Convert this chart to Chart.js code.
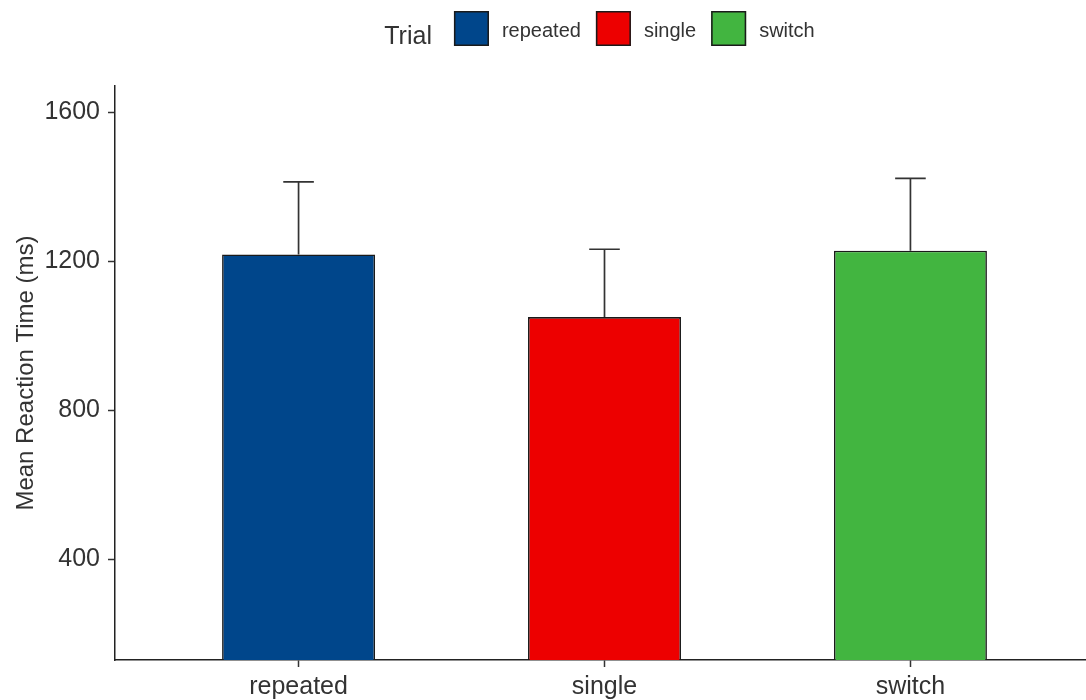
<!DOCTYPE html>
<html>
<head>
<meta charset="utf-8">
<script src="https://cdn.jsdelivr.net/npm/chart.js@4"></script>
<style>
  html, body { margin: 0; padding: 0; background: #fff; overflow: hidden; width: 1086px; height: 700px; }
  #wrap { width: 1100px; height: 700px; }
</style>
</head>
<body>
<div id="wrap"><canvas id="c" width="1100" height="700"></canvas></div>
<script>
// Mean reaction time per trial type, with the upper end of each error bar
const categories = ['repeated', 'single', 'switch'];
const meanRT = [1218, 1050, 1228];
const upperRT = [1413, 1232, 1422];
const barColors = ['#00468B', '#ED0000', '#42B540'];
const yTicks = [400, 800, 1200, 1600];
const legendTitle = 'Trial';
const yTitle = 'Mean Reaction Time (ms)';

const FONT = '"Liberation Sans", Arial, Helvetica, sans-serif';

// Upper error bars: stem from the bar top to the upper value, with a cap
const errorBarPlugin = {
  id: 'upperErrorBars',
  afterDatasetsDraw(chart) {
    const { ctx, scales: { x, y } } = chart;
    ctx.save();
    ctx.strokeStyle = '#333';
    ctx.lineWidth = 1.7;
    upperRT.forEach((u, i) => {
      const cx = x.getPixelForValue(i + 1);
      const half = x.getPixelForValue(i + 1 + 0.05) - cx;
      const yTop = y.getPixelForValue(u);
      const yBase = y.getPixelForValue(meanRT[i]);
      ctx.beginPath();
      ctx.moveTo(cx, yBase);
      ctx.lineTo(cx, yTop);
      ctx.moveTo(cx - half, yTop);
      ctx.lineTo(cx + half, yTop);
      ctx.stroke();
    });
    ctx.restore();
  }
};

// Horizontal legend at the top: title followed by colour keys
const trialLegendPlugin = {
  id: 'trialLegend',
  afterDraw(chart) {
    const { ctx, chartArea: area } = chart;
    const box = 35, gapTitle = 22, gapLabel = 13, gapItem = 15;
    ctx.save();
    ctx.font = '25px ' + FONT;
    const titleW = ctx.measureText(legendTitle).width;
    ctx.font = '20px ' + FONT;
    const labelW = categories.map(c => ctx.measureText(c).width);
    let total = titleW + gapTitle;
    labelW.forEach((w, i) => {
      total += box + gapLabel + w + (i < labelW.length - 1 ? gapItem : 0);
    });
    let x = (area.left + area.right) / 2 - 5 - total / 2;
    const boxTop = 11;

    ctx.textBaseline = 'alphabetic';
    ctx.textAlign = 'left';
    ctx.fillStyle = '#333';
    ctx.font = '25px ' + FONT;
    ctx.fillText(legendTitle, x, 44);
    x += titleW + gapTitle;

    ctx.font = '20px ' + FONT;
    categories.forEach((c, i) => {
      ctx.fillStyle = barColors[i];
      ctx.fillRect(x, boxTop, box, box);
      ctx.strokeStyle = '#1a1a1a';
      ctx.lineWidth = 1.5;
      ctx.strokeRect(x + 0.75, boxTop + 0.75, box - 1.5, box - 1.5);
      x += box + gapLabel;
      ctx.fillStyle = '#333';
      ctx.fillText(c, x, 37);
      x += labelW[i] + gapItem;
    });
    ctx.restore();
  }
};

new Chart(document.getElementById('c'), {
  type: 'bar',
  data: {
    datasets: [{
      data: categories.map((c, i) => ({ x: i + 1, y: meanRT[i] })),
      backgroundColor: barColors,
      borderColor: '#1a1a1a',
      borderWidth: 1.6,
      borderSkipped: false,
      barPercentage: 0.5,
      categoryPercentage: 1.0
    }]
  },
  options: {
    responsive: false,
    animation: false,
    devicePixelRatio: 1,
    layout: { padding: { top: 86, right: 6, bottom: 0, left: 0 } },
    plugins: { legend: { display: false }, tooltip: { enabled: false } },
    scales: {
      x: {
        type: 'linear',
        min: 0.4,
        max: 3.6,
        offset: false,
        afterBuildTicks: s => { s.ticks = categories.map((c, i) => ({ value: i + 1 })); },
        afterFit: s => { s.height = 40; },
        grid: { display: true, offset: false, drawOnChartArea: false, drawTicks: true, tickLength: 7, tickColor: '#333', tickWidth: 1.5 },
        border: { display: true, color: '#222', width: 1.5 },
        ticks: {
          callback: v => categories[Math.round(v) - 1],
          color: '#333',
          font: { size: 25, family: FONT },
          padding: 5,
          maxRotation: 0,
          autoSkip: false
        }
      },
      y: {
        type: 'linear',
        min: 130,
        max: 1670,
        afterBuildTicks: s => { s.ticks = yTicks.map(v => ({ value: v })); },
        afterFit: s => { s.width = 115; },
        grid: { display: true, offset: false, drawOnChartArea: false, drawTicks: true, tickLength: 7, tickColor: '#333', tickWidth: 1.5 },
        border: { display: true, color: '#222', width: 1.5 },
        ticks: {
          callback: v => String(v),
          color: '#333',
          font: { size: 25, family: FONT },
          padding: 8
        },
        title: {
          display: true,
          text: yTitle,
          color: '#333',
          font: { size: 24, family: FONT },
          padding: { top: 12, bottom: 0 }
        }
      }
    }
  },
  plugins: [errorBarPlugin, trialLegendPlugin]
});
</script>
</body>
</html>
